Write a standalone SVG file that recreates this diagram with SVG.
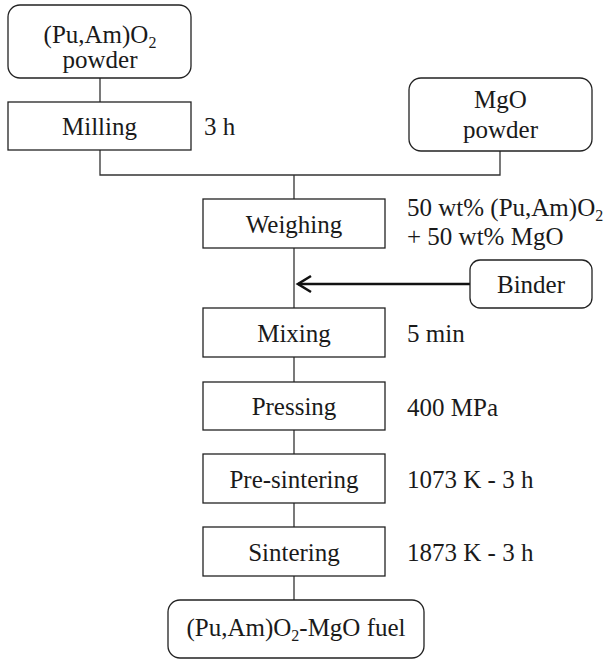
<svg xmlns="http://www.w3.org/2000/svg" width="609" height="660" viewBox="0 0 609 660">
<style>
.box{fill:#fff;stroke:#222;stroke-width:1.3}
.ln{fill:none;stroke:#333;stroke-width:1.3}
text{font-family:'Liberation Serif','Times New Roman',Times,'DejaVu Serif',serif;font-size:25px;fill:#1a1a1a}
.c{text-anchor:middle}
.sub{font-size:16px}
</style>
<rect width="609" height="660" fill="#fff"/>
<g id="connectors">
<path class="ln" d="M100,78V102M100,150V175H500V151M294,175V199M294,248V308M294,357V382M294,430V454M294,503V527M294,576V600"/>
<path d="M470,284H298" fill="none" stroke="#111" stroke-width="2.6"/>
<polyline points="311,276 298,284 311,292" fill="none" stroke="#111" stroke-width="2.6" stroke-linejoin="miter"/>
</g>
<g id="puam-powder">
<rect class="box" x="8" y="5" width="183" height="73" rx="12"/>
<text class="c" x="100" y="43">(Pu,Am)O<tspan class="sub" dy="5">2</tspan></text>
<text class="c" x="100" y="68">powder</text>
</g>
<g id="milling">
<rect class="box" x="8" y="102" width="183" height="48"/>
<text class="c" x="99.5" y="135">Milling</text>
<text x="204" y="135">3 h</text>
</g>
<g id="mgo-powder">
<rect class="box" x="409" y="78" width="183" height="73" rx="12"/>
<text class="c" x="500.5" y="108">MgO</text>
<text class="c" x="500.5" y="138">powder</text>
</g>
<g id="weighing">
<rect class="box" x="203" y="199" width="182" height="49"/>
<text class="c" x="294" y="232.5">Weighing</text>
<text x="407" y="216">50 wt% (Pu,Am)O<tspan class="sub" dy="5">2</tspan></text>
<text x="407" y="245">+ 50 wt% MgO</text>
</g>
<g id="binder">
<rect class="box" x="470" y="260" width="122" height="48" rx="10"/>
<text class="c" x="531" y="293">Binder</text>
</g>
<g id="mixing">
<rect class="box" x="203" y="308" width="182" height="49"/>
<text class="c" x="294" y="341.5">Mixing</text>
<text x="407" y="342">5 min</text>
</g>
<g id="pressing">
<rect class="box" x="203" y="382" width="182" height="48"/>
<text class="c" x="294" y="415">Pressing</text>
<text x="407" y="415.5">400 MPa</text>
</g>
<g id="pre-sintering">
<rect class="box" x="203" y="454" width="182" height="49"/>
<text class="c" x="294" y="487.5">Pre-sintering</text>
<text x="407" y="487.5">1073 K - 3 h</text>
</g>
<g id="sintering">
<rect class="box" x="203" y="527" width="182" height="49"/>
<text class="c" x="294" y="560.5">Sintering</text>
<text x="407" y="560.5">1873 K - 3 h</text>
</g>
<g id="fuel">
<rect class="box" x="168" y="600" width="256" height="58" rx="12"/>
<text class="c" x="296" y="636">(Pu,Am)O<tspan class="sub" dy="5">2</tspan><tspan dy="-5">-MgO fuel</tspan></text>
</g>
</svg>
